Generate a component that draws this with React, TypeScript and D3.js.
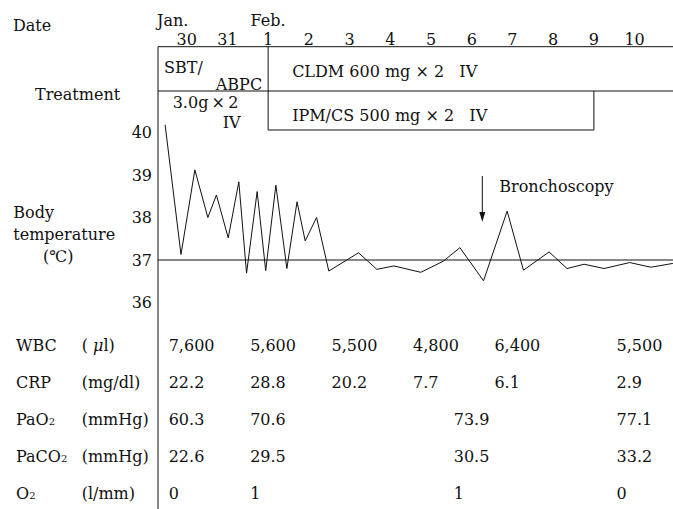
import React from "react";
import * as d3 from "d3";

// ---- data ----
const dayLabels = ["30", "31", "1", "2", "3", "4", "5", "6", "7", "8", "9", "10"]; // day index 0..11
const monthLabels = [
  { label: "Jan.", day: 0 },
  { label: "Feb.", day: 2 },
];

// body temperature readings: t = day index (Jan 30 = 0), temp in ℃
const tempTimes = [
  -0.53, -0.14, 0.2, 0.52, 0.73, 1.02, 1.28, 1.47, 1.73, 1.94, 2.19, 2.46, 2.71, 2.91, 3.19, 3.49,
  4.22, 4.67, 5.09, 5.75, 6.3, 6.71, 7.29, 7.87, 8.27, 8.9, 9.34, 9.76, 10.25, 10.88, 11.4, 11.94,
];
const tempValues = [
  40.18, 37.13, 39.12, 38.0, 38.53, 37.52, 38.84, 36.69, 38.61, 36.75, 38.76, 36.8, 38.37, 37.45, 38.0, 36.74,
  37.17, 36.78, 36.86, 36.71, 36.97, 37.29, 36.51, 38.15, 36.76, 37.19, 36.8, 36.9, 36.8, 36.94, 36.83, 36.92,
];
const tempTicks = [36, 37, 38, 39, 40];
const normalTemp = 37;

const bronchoscopyDay = 7.26;

// lab table (day index of each column)
const wbcDays = [0, 2, 4, 6, 8, 11];
const wbcValues = ["7,600", "5,600", "5,500", "4,800", "6,400", "5,500"];
const crpDays = [0, 2, 4, 6, 8, 11];
const crpValues = ["22.2", "28.8", "20.2", "7.7", "6.1", "2.9"];
const gasDays = [0, 2, 7, 11];
const pao2Values = ["60.3", "70.6", "73.9", "77.1"];
const paco2Values = ["22.6", "29.5", "30.5", "33.2"];
const o2Values = ["0", "1", "1", "0"];

const W = 673;
const H = 509;
const FONT = "'DejaVu Serif', serif";
const FS = 16;

export default function App() {
  const left = 158;
  const right = W;
  const treatTop = 46.7;
  const treatMid = 91;
  const ipmBottom = 130;

  const x = d3.scaleLinear().domain([0, 11]).range([186.7, 634.6]);
  const y = d3.scaleLinear().domain([36, 40]).range([302.5, 132.5]);

  const pts = tempTimes.map((t, i) => ({ t, v: tempValues[i] }));
  const lineGen = d3
    .line<{ t: number; v: number }>()
    .x((d) => x(d.t))
    .y((d) => y(d.v));

  const rows = [
    { name: "WBC", sub: "", unit: <>( <tspan fontStyle="italic">μ</tspan>l)</>, days: wbcDays, values: wbcValues },
    { name: "CRP", sub: "", unit: <>(mg/dl)</>, days: crpDays, values: crpValues },
    { name: "PaO", sub: "2", unit: <>(mmHg)</>, days: gasDays, values: pao2Values },
    { name: "PaCO", sub: "2", unit: <>(mmHg)</>, days: gasDays, values: paco2Values },
    { name: "O", sub: "2", unit: <>(l/mm)</>, days: gasDays, values: o2Values },
  ];
  const rowBase0 = 350.5;
  const rowStep = 37;
  const colShift = -18;

  const feb1 = x(2);
  const ipmEnd = x(10);
  const bx = x(bronchoscopyDay);

  return (
    <svg
      width={W}
      height={H}
      style={{ position: "absolute", left: 0, top: 0, background: "#fff" }}
      fontFamily={FONT}
      fontSize={FS}
      fill="#111"
    >
      <rect x={0} y={0} width={W} height={H} fill="#fff" />
      {/* header */}
      <text x={13} y={30.5}>Date</text>
      {monthLabels.map((m, i) => (
        <text key={m.label} x={i === 0 ? left - 1 : x(m.day)} y={26} textAnchor={i === 0 ? "start" : "middle"}>
          {m.label}
        </text>
      ))}
      {dayLabels.map((d, i) => (
        <text key={i} x={x(i)} y={44.6} textAnchor="middle">
          {d}
        </text>
      ))}

      {/* treatment */}
      <text x={35} y={100}>Treatment</text>
      <g stroke="#111" strokeWidth={1} fill="none">
        <line x1={left} y1={treatTop} x2={right} y2={treatTop} />
        <line x1={left} y1={treatMid} x2={right} y2={treatMid} />
        <line x1={feb1} y1={treatTop} x2={feb1} y2={ipmBottom} />
        <line x1={feb1} y1={ipmBottom} x2={ipmEnd} y2={ipmBottom} />
        <line x1={ipmEnd} y1={treatMid} x2={ipmEnd} y2={ipmBottom} />
        <line x1={left} y1={treatTop} x2={left} y2={H} />
      </g>
      <text x={164} y={72.5}>SBT/</text>
      <text x={feb1 - 6} y={89.5} textAnchor="end">ABPC</text>
      <text x={172.7} y={107.5}>3.0g{"\u2009×\u2009"}2</text>
      <text x={222.7} y={128}>IV</text>
      <text x={feb1 + 24} y={77} style={{ whiteSpace: "pre" }}>
        CLDM 600 mg × 2   IV
      </text>
      <text x={feb1 + 24} y={120.5} style={{ whiteSpace: "pre" }}>
        IPM/CS 500 mg × 2   IV
      </text>

      {/* temperature */}
      <text x={13.3} y={217.5}>Body</text>
      <text x={13.3} y={240}>temperature</text>
      <text x={43} y={262}>(℃)</text>
      {tempTicks.map((t) => (
        <text key={t} x={152} y={y(t)} dy="0.36em" textAnchor="end">
          {t}
        </text>
      ))}
      <line x1={left} x2={right} y1={y(normalTemp)} y2={y(normalTemp)} stroke="#111" strokeWidth={1.1} />
      <path d={lineGen(pts) || ""} fill="none" stroke="#111" strokeWidth={1} strokeLinejoin="miter" />

      {/* bronchoscopy arrow */}
      <line x1={bx} x2={bx} y1={176} y2={214} stroke="#111" strokeWidth={1} />
      <path d={`M${bx - 3},${212} L${bx + 3},${212} L${bx},${221.7} Z`} fill="#111" />
      <text x={bx + 17} y={192}>Bronchoscopy</text>

      {/* lab table */}
      {rows.map((r, ri) => {
        const by = rowBase0 + ri * rowStep;
        return (
          <g key={r.name + ri}>
            <text x={16} y={by}>
              {r.name}
              {r.sub && (
                <tspan fontSize={10} dy={0}>
                  {r.sub}
                </tspan>
              )}
            </text>
            <text x={81.7} y={by}>{r.unit}</text>
            {r.values.map((v, vi) => (
              <text key={vi} x={x(r.days[vi]) + colShift} y={by}>
                {v}
              </text>
            ))}
          </g>
        );
      })}
    </svg>
  );
}
